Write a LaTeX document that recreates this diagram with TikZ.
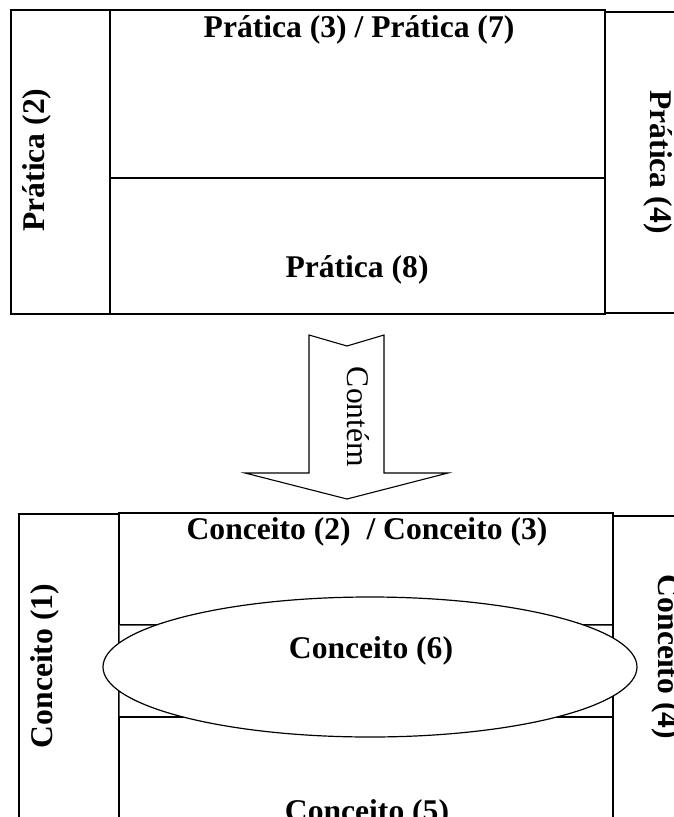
\documentclass[tikz,border=0pt]{standalone}
\usepackage{fontspec}
\setmainfont{Liberation Serif}
\usetikzlibrary{shapes.geometric}
\begin{document}
\begin{tikzpicture}[x=1pt,y=-1pt,
  frame/.style={draw=black,line width=1.4pt},
  band/.style={draw=black!65,line width=0.7pt},
  blockarrow/.style={draw=black,line width=1.1pt,fill=white,line join=miter},
  oval/.style={draw=black,line width=1.2pt,fill=white},
  lbl/.style={font=\fontsize{31.6}{36}\selectfont\bfseries,inner sep=0pt,anchor=base},
  plain/.style={font=\fontsize{31.6}{36}\selectfont,inner sep=0pt,anchor=base}]
\useasboundingbox (0,0) rectangle (674,817);
\clip (0,0) rectangle (674,817);

% upper group: practices
\draw[frame] (11,10) rectangle (110,314);
\draw[frame] (110,10) rectangle (605,178);
\draw[frame] (110,178) rectangle (605,314);
\draw[frame] (605,12) rectangle (700,313);

\node[lbl] (p37) at (359,37) {Prática (3) / Prática (7)};
\node[lbl] (p8) at (357,277) {Prática (8)};
\node[lbl,rotate=90] (p2) at (44,160) {Prática (2)};
\node[lbl,rotate=-90] (p4) at (650,162) {Prática (4)};

% block arrow between the groups
\draw[blockarrow] (309,335) -- (347,346) -- (384,335) -- (384,473)
  -- (448,473) -- (347,499) -- (245,473) -- (309,473) -- cycle;
\node[plain,rotate=-90] (contem) at (347,417) {Contém};

% lower group: concepts
\draw[frame] (19,514) rectangle (119,840);
\draw[frame] (119,513) rectangle (613,625);
\draw[band] (119,625) rectangle (613,717);
\draw[frame] (119,717) rectangle (613,840);
\draw[frame] (613,516) rectangle (700,840);

\node[oval,ellipse,minimum width=534pt,minimum height=140pt,inner sep=0pt] (c6shape) at (370,667) {};

\node[lbl] (c23) at (367,539) {Conceito (2)\ \ / Conceito (3)};
\node[lbl] (c6) at (371,658) {Conceito (6)};
\node[lbl] (c5) at (367,821) {Conceito (5)};
\node[lbl,rotate=90] (c1) at (52,666) {Conceito (1)};
\node[lbl,rotate=-90] (c4) at (658,657) {Conceito (4)};
\end{tikzpicture}
\end{document}
